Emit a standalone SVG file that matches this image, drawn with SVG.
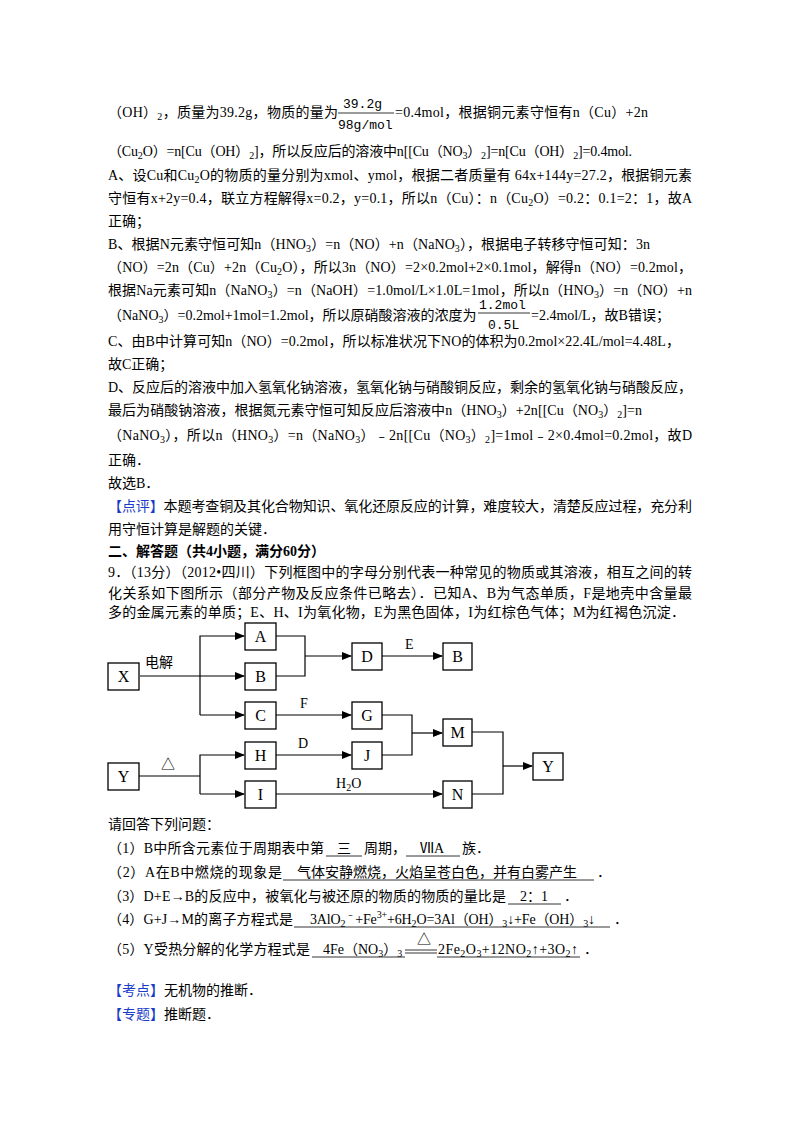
<svg xmlns="http://www.w3.org/2000/svg" width="800" height="1132" viewBox="0 0 800 1132">
<style>
text{font-family:"Liberation Serif","Noto Sans CJK SC",serif;font-size:14px;fill:#000}
.b{font-weight:bold}
.bl{fill:#1a3cc8}
.m{font-family:"Liberation Mono","Noto Sans CJK SC",monospace;font-size:13px}
.n{font-size:16px;text-anchor:middle}
.box{fill:#fff;stroke:#000;stroke-width:1.3}
.ln{fill:none;stroke:#000;stroke-width:1.2}
.ul{stroke:#000;stroke-width:0.8}
</style>
<defs><marker id="ar" markerWidth="10" markerHeight="8" refX="9" refY="4" orient="auto" markerUnits="userSpaceOnUse"><path d="M0,0L10,4L0,8z" fill="#000"/></marker></defs>
<rect width="800" height="1132" fill="#fff"/>
<g id="text-top">
<text x="108" y="117" textLength="230">（OH）<tspan font-size="10" dy="3">2</tspan><tspan dy="-3">，质量为39.2g，物质的量为</tspan></text>
<text class="m" x="343" y="108">39.2g</text><line class="ul" x1="338" y1="113" x2="394" y2="113"/><text class="m" x="338" y="129">98g/mol</text>
<text x="395" y="117" textLength="253">=0.4mol，根据铜元素守恒有n（Cu）+2n</text>
<text x="108" y="156" textLength="524">（Cu<tspan font-size="10" dy="3">2</tspan><tspan dy="-3">O）=n[Cu（OH）</tspan><tspan font-size="10" dy="3">2</tspan><tspan dy="-3">]，所以反应后的溶液中n[[Cu（NO</tspan><tspan font-size="10" dy="3">3</tspan><tspan dy="-3">）</tspan><tspan font-size="10" dy="3">2</tspan><tspan dy="-3">]=n[Cu（OH）</tspan><tspan font-size="10" dy="3">2</tspan><tspan dy="-3">]=0.4mol.</tspan></text>
<text x="108" y="180" textLength="584">A、设Cu和Cu<tspan font-size="10" dy="3">2</tspan><tspan dy="-3">O的物质的量分别为xmol、ymol，根据二者质量有 64x+144y=27.2，根据铜元素</tspan></text>
<text x="108" y="203" textLength="584">守恒有x+2y=0.4，联立方程解得x=0.2，y=0.1，所以n（Cu）：n（Cu<tspan font-size="10" dy="3">2</tspan><tspan dy="-3">O）=0.2：0.1=2：1，故A</tspan></text>
<text x="108" y="226">正确；</text>
<text x="108" y="249" textLength="542">B、根据N元素守恒可知n（HNO<tspan font-size="10" dy="3">3</tspan><tspan dy="-3">）=n（NO）+n（NaNO</tspan><tspan font-size="10" dy="3">3</tspan><tspan dy="-3">），根据电子转移守恒可知：3n</tspan></text>
<text x="108" y="272" textLength="584">（NO）=2n（Cu）+2n（Cu<tspan font-size="10" dy="3">2</tspan><tspan dy="-3">O），所以3n（NO）=2×0.2mol+2×0.1mol，解得n（NO）=0.2mol，</tspan></text>
<text x="108" y="295" textLength="584">根据Na元素可知n（NaNO<tspan font-size="10" dy="3">3</tspan><tspan dy="-3">）=n（NaOH）=1.0mol/L×1.0L=1mol，所以n（HNO</tspan><tspan font-size="10" dy="3">3</tspan><tspan dy="-3">）=n（NO）+n</tspan></text>
<text x="108" y="320">（NaNO<tspan font-size="10" dy="3">3</tspan><tspan dy="-3">）=0.2mol+1mol=1.2mol，所以原硝酸溶液的浓度为</tspan></text>
<text class="m" x="479" y="309">1.2mol</text><line class="ul" x1="478" y1="313" x2="530" y2="313"/><text class="m" x="488" y="329">0.5L</text>
<text x="531" y="320">=2.4mol/L，故B错误；</text>
<text x="108" y="346" textLength="572">C、由B中计算可知n（NO）=0.2mol，所以标准状况下NO的体积为0.2mol×22.4L/mol=4.48L，</text>
<text x="108" y="369">故C正确；</text>
<text x="108" y="392" textLength="584">D、反应后的溶液中加入氢氧化钠溶液，氢氧化钠与硝酸铜反应，剩余的氢氧化钠与硝酸反应，</text>
<text x="108" y="415" textLength="534">最后为硝酸钠溶液，根据氮元素守恒可知反应后溶液中n（HNO<tspan font-size="10" dy="3">3</tspan><tspan dy="-3">）+2n[[Cu（NO</tspan><tspan font-size="10" dy="3">3</tspan><tspan dy="-3">）</tspan><tspan font-size="10" dy="3">2</tspan><tspan dy="-3">]=n</tspan></text>
<text x="108" y="440" textLength="584">（NaNO<tspan font-size="10" dy="3">3</tspan><tspan dy="-3">），所以n（HNO</tspan><tspan font-size="10" dy="3">3</tspan><tspan dy="-3">）=n（NaNO</tspan><tspan font-size="10" dy="3">3</tspan><tspan dy="-3">）﹣2n[[Cu（NO</tspan><tspan font-size="10" dy="3">3</tspan><tspan dy="-3">）</tspan><tspan font-size="10" dy="3">2</tspan><tspan dy="-3">]=1mol﹣2×0.4mol=0.2mol，故D</tspan></text>
<text x="108" y="465">正确．</text>
<text x="108" y="488">故选B．</text>
<text x="108" y="511" textLength="584"><tspan class="bl">【点评】</tspan>本题考查铜及其化合物知识、氧化还原反应的计算，难度较大，清楚反应过程，充分利</text>
<text x="108" y="534">用守恒计算是解题的关键．</text>
<text class="b" x="108" y="556">二、解答题（共4小题，满分60分）</text>
<text x="108" y="577" textLength="584">9．（13分）（2012•四川）下列框图中的字母分别代表一种常见的物质或其溶液，相互之间的转</text>
<text x="108" y="598" textLength="584">化关系如下图所示（部分产物及反应条件已略去）．已知A、B为气态单质，F是地壳中含量最</text>
<text x="108" y="617" textLength="577">多的金属元素的单质；E、H、I为氧化物，E为黑色固体，I为红棕色气体；M为红褐色沉淀．</text>
</g>
<g id="connectors">
<line class="ln" x1="140" y1="676" x2="200" y2="676"/>
<polyline class="ln" points="200,715 200,636 244,636" marker-end="url(#ar)"/>
<line class="ln" x1="200" y1="676" x2="244" y2="676" marker-end="url(#ar)"/>
<line class="ln" x1="200" y1="715" x2="244" y2="715" marker-end="url(#ar)"/>
<polyline class="ln" points="276,636 305,636 305,676 276,676"/>
<line class="ln" x1="305" y1="656" x2="351" y2="656" marker-end="url(#ar)"/>
<line class="ln" x1="382" y1="656" x2="442" y2="656" marker-end="url(#ar)"/>
<line class="ln" x1="276" y1="715" x2="351" y2="715" marker-end="url(#ar)"/>
<polyline class="ln" points="382,715 412,715 412,755 382,755"/>
<line class="ln" x1="412" y1="733" x2="442" y2="733" marker-end="url(#ar)"/>
<line class="ln" x1="139" y1="776" x2="200" y2="776"/>
<polyline class="ln" points="200,794 200,755 244,755" marker-end="url(#ar)"/>
<line class="ln" x1="200" y1="794" x2="244" y2="794" marker-end="url(#ar)"/>
<line class="ln" x1="276" y1="755" x2="351" y2="755" marker-end="url(#ar)"/>
<line class="ln" x1="276" y1="794" x2="442" y2="794" marker-end="url(#ar)"/>
<polyline class="ln" points="472,732 503,732 503,794 472,794"/>
<line class="ln" x1="503" y1="766" x2="532" y2="766" marker-end="url(#ar)"/>
<text x="145" y="667" font-family="Noto Sans CJK SC,sans-serif" font-size="15">电解</text>
<text x="405" y="649" font-size="15">E</text>
<text x="300" y="708" font-size="15">F</text>
<text x="298" y="748" font-size="15">D</text>
<text x="161" y="769" font-size="16">△</text>
<text x="336" y="788" font-size="15">H<tspan font-size="10" dy="3">2</tspan><tspan dy="-3">O</tspan></text>
</g>
<g id="X"><rect class="box" x="108" y="663" width="31" height="27"/><text class="n" x="123.5" y="682">X</text></g>
<g id="A"><rect class="box" x="245" y="623" width="31" height="27"/><text class="n" x="260.5" y="642">A</text></g>
<g id="B"><rect class="box" x="245" y="663" width="31" height="27"/><text class="n" x="260.5" y="682">B</text></g>
<g id="C"><rect class="box" x="245" y="702" width="31" height="27"/><text class="n" x="260.5" y="721">C</text></g>
<g id="D"><rect class="box" x="352" y="643" width="30" height="27"/><text class="n" x="367" y="662">D</text></g>
<g id="B2"><rect class="box" x="443" y="643" width="29" height="27"/><text class="n" x="457.5" y="662">B</text></g>
<g id="G"><rect class="box" x="352" y="702" width="30" height="27"/><text class="n" x="367" y="721">G</text></g>
<g id="H"><rect class="box" x="245" y="742" width="31" height="27"/><text class="n" x="260.5" y="761">H</text></g>
<g id="J"><rect class="box" x="352" y="742" width="30" height="27"/><text class="n" x="367" y="761">J</text></g>
<g id="M"><rect class="box" x="443" y="719" width="29" height="27"/><text class="n" x="457.5" y="738">M</text></g>
<g id="Y"><rect class="box" x="108" y="763" width="31" height="27"/><text class="n" x="123.5" y="782">Y</text></g>
<g id="I"><rect class="box" x="245" y="781" width="31" height="27"/><text class="n" x="260.5" y="800">I</text></g>
<g id="N"><rect class="box" x="443" y="781" width="29" height="27"/><text class="n" x="457.5" y="800">N</text></g>
<g id="Y2"><rect class="box" x="533" y="753" width="30" height="27"/><text class="n" x="548" y="772">Y</text></g>
<g id="text-bottom">
<text x="108" y="829">请回答下列问题：</text>
<text x="108" y="853" textLength="216">（1）B中所含元素位于周期表中第</text><line class="ul" x1="326" y1="856" x2="362" y2="856"/><text x="337" y="853">三</text>
<text x="364" y="853">周期，</text><line class="ul" x1="406" y1="856" x2="460" y2="856"/><text x="420" y="853">ⅦA</text><text x="462" y="853">族．</text>
<text x="108" y="877" textLength="174">（2）A在B中燃烧的现象是</text><line class="ul" x1="283" y1="880" x2="594" y2="880"/><text x="297" y="877">气体安静燃烧，火焰呈苍白色，并有白雾产生</text><text x="597" y="877">．</text>
<text x="108" y="901" textLength="398">（3）D+E→B的反应中，被氧化与被还原的物质的物质的量比是</text><line class="ul" x1="508" y1="904" x2="561" y2="904"/><text x="520" y="901">2：1</text><text x="564" y="901">．</text>
<text x="108" y="924" textLength="185">（4）G+J→M的离子方程式是</text><line class="ul" x1="294" y1="927" x2="610" y2="927"/>
<text x="310" y="924" textLength="285">3AlO<tspan font-size="10" dy="3">2</tspan><tspan font-size="10" dy="-9">﹣</tspan><tspan dy="6">+Fe</tspan><tspan font-size="10" dy="-6">3+</tspan><tspan dy="6">+6H</tspan><tspan font-size="10" dy="3">2</tspan><tspan dy="-3">O=3Al（OH）</tspan><tspan font-size="10" dy="3">3</tspan><tspan dy="-3">↓+Fe（OH）</tspan><tspan font-size="10" dy="3">3</tspan><tspan dy="-3">↓</tspan></text><text x="614" y="924">．</text>
<text x="108" y="954" textLength="202">（5）Y受热分解的化学方程式是</text><line class="ul" x1="312" y1="957" x2="405" y2="957"/><line class="ul" x1="437" y1="957" x2="580" y2="957"/>
<text x="323" y="954">4Fe（NO<tspan font-size="10" dy="3">3</tspan><tspan dy="-3">）</tspan><tspan font-size="10" dy="3">3</tspan></text>
<line class="ul" x1="405" y1="950" x2="437" y2="950"/><line class="ul" x1="405" y1="953" x2="437" y2="953"/><text x="417" y="944" font-size="17">△</text>
<text x="438" y="954" textLength="140">2Fe<tspan font-size="10" dy="3">2</tspan><tspan dy="-3">O</tspan><tspan font-size="10" dy="3">3</tspan><tspan dy="-3">+12NO</tspan><tspan font-size="10" dy="3">2</tspan><tspan dy="-3">↑+3O</tspan><tspan font-size="10" dy="3">2</tspan><tspan dy="-3">↑</tspan></text><text x="584" y="954">．</text>
<text x="108" y="995"><tspan class="bl">【考点】</tspan>无机物的推断．</text>
<text x="108" y="1019"><tspan class="bl">【专题】</tspan>推断题．</text>
</g>
</svg>
